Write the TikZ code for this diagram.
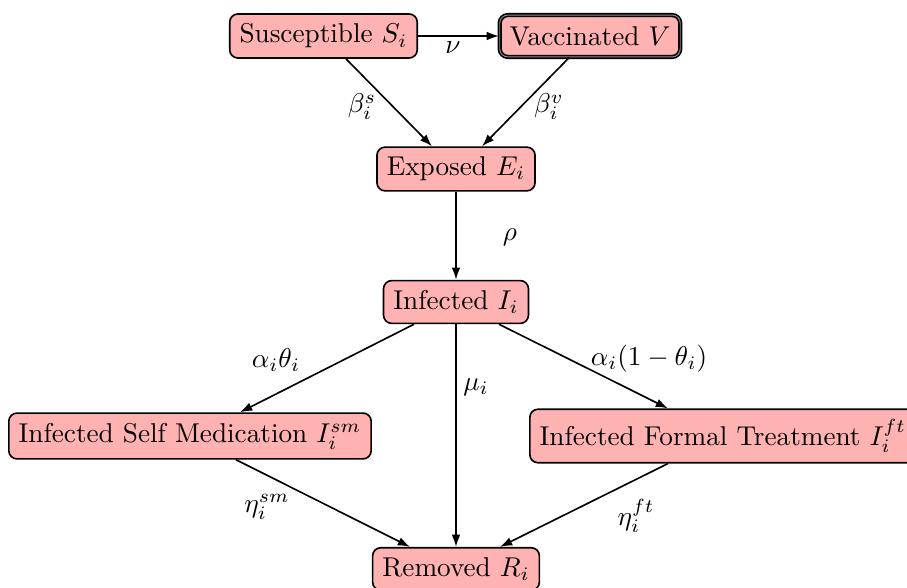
\documentclass[tikz,border=0pt]{standalone}
\usetikzlibrary{calc,arrows.meta}
\begin{document}
\begin{tikzpicture}[x=0.3676pt,y=-0.3676pt,
  box/.style={draw=black, fill=red!30, rounded corners=3pt, semithick, inner sep=3.6pt, minimum height=15.4pt},
  arr/.style={-{Latex[length=4.5pt,width=3.2pt]}, semithick},
  lbl/.style={inner sep=0pt}]
\clip (0,0) rectangle (907,588);
\node[box] (S) at (323.5,36) {Susceptible $S_i$};
\node[box, double=black!45, double distance=0.35pt] (V) at (590,36) {Vaccinated $V$};
\node[box] (E) at (456,169) {Exposed $E_i$};
\node[box] (I) at (456,302) {Infected $I_i$};
\node[box] (SM) at (190,436) {Infected Self Medication $I_i^{sm}$};
\node[box, anchor=west, minimum height=18pt] (FT) at (529,436) {Infected Formal Treatment $I_i^{ft}$};
\node[box] (R) at (456,569) {Removed $R_i$};

\draw[arr] (S) -- (V);
\draw[arr] ($(S.south)+(22.5,0)$) -- ($(E.north)+(-24,0)$);
\draw[arr] ($(V.south)+(-21,0)$) -- ($(E.north)+(26,0)$);
\draw[arr] (E) -- (I);
\draw[arr] ($(I.south)+(-42,0)$) -- ($(SM.north)+(50,0)$);
\draw[arr] (I) -- (R);
\draw[arr] ($(I.south)+(43,0)$) -- ($(FT.north west)+(139,0)$);
\draw[arr] ($(SM.south)+(46,0)$) -- ($(R.north)+(-46,0)$);
\draw[arr] ($(FT.south west)+(139,0)$) -- ($(R.north)+(44,0)$);

\node[lbl] (lnu) at (453,48) {$\nu$};
\node[lbl] (lbs) at (362,107) {$\beta_i^s$};
\node[lbl] (lbv) at (549,107) {$\beta_i^v$};
\node[lbl] (lrho) at (510,237) {$\rho$};
\node[lbl] (lat) at (276,360) {$\alpha_i\theta_i$};
\node[lbl] (lmu) at (476,387) {$\mu_i$};
\node[lbl] (lat2) at (649,359) {$\alpha_i(1-\theta_i)$};
\node[lbl] (lesm) at (267,507) {$\eta_i^{sm}$};
\node[lbl] (left) at (636,516) {$\eta_i^{ft}$};
\end{tikzpicture}
\end{document}
